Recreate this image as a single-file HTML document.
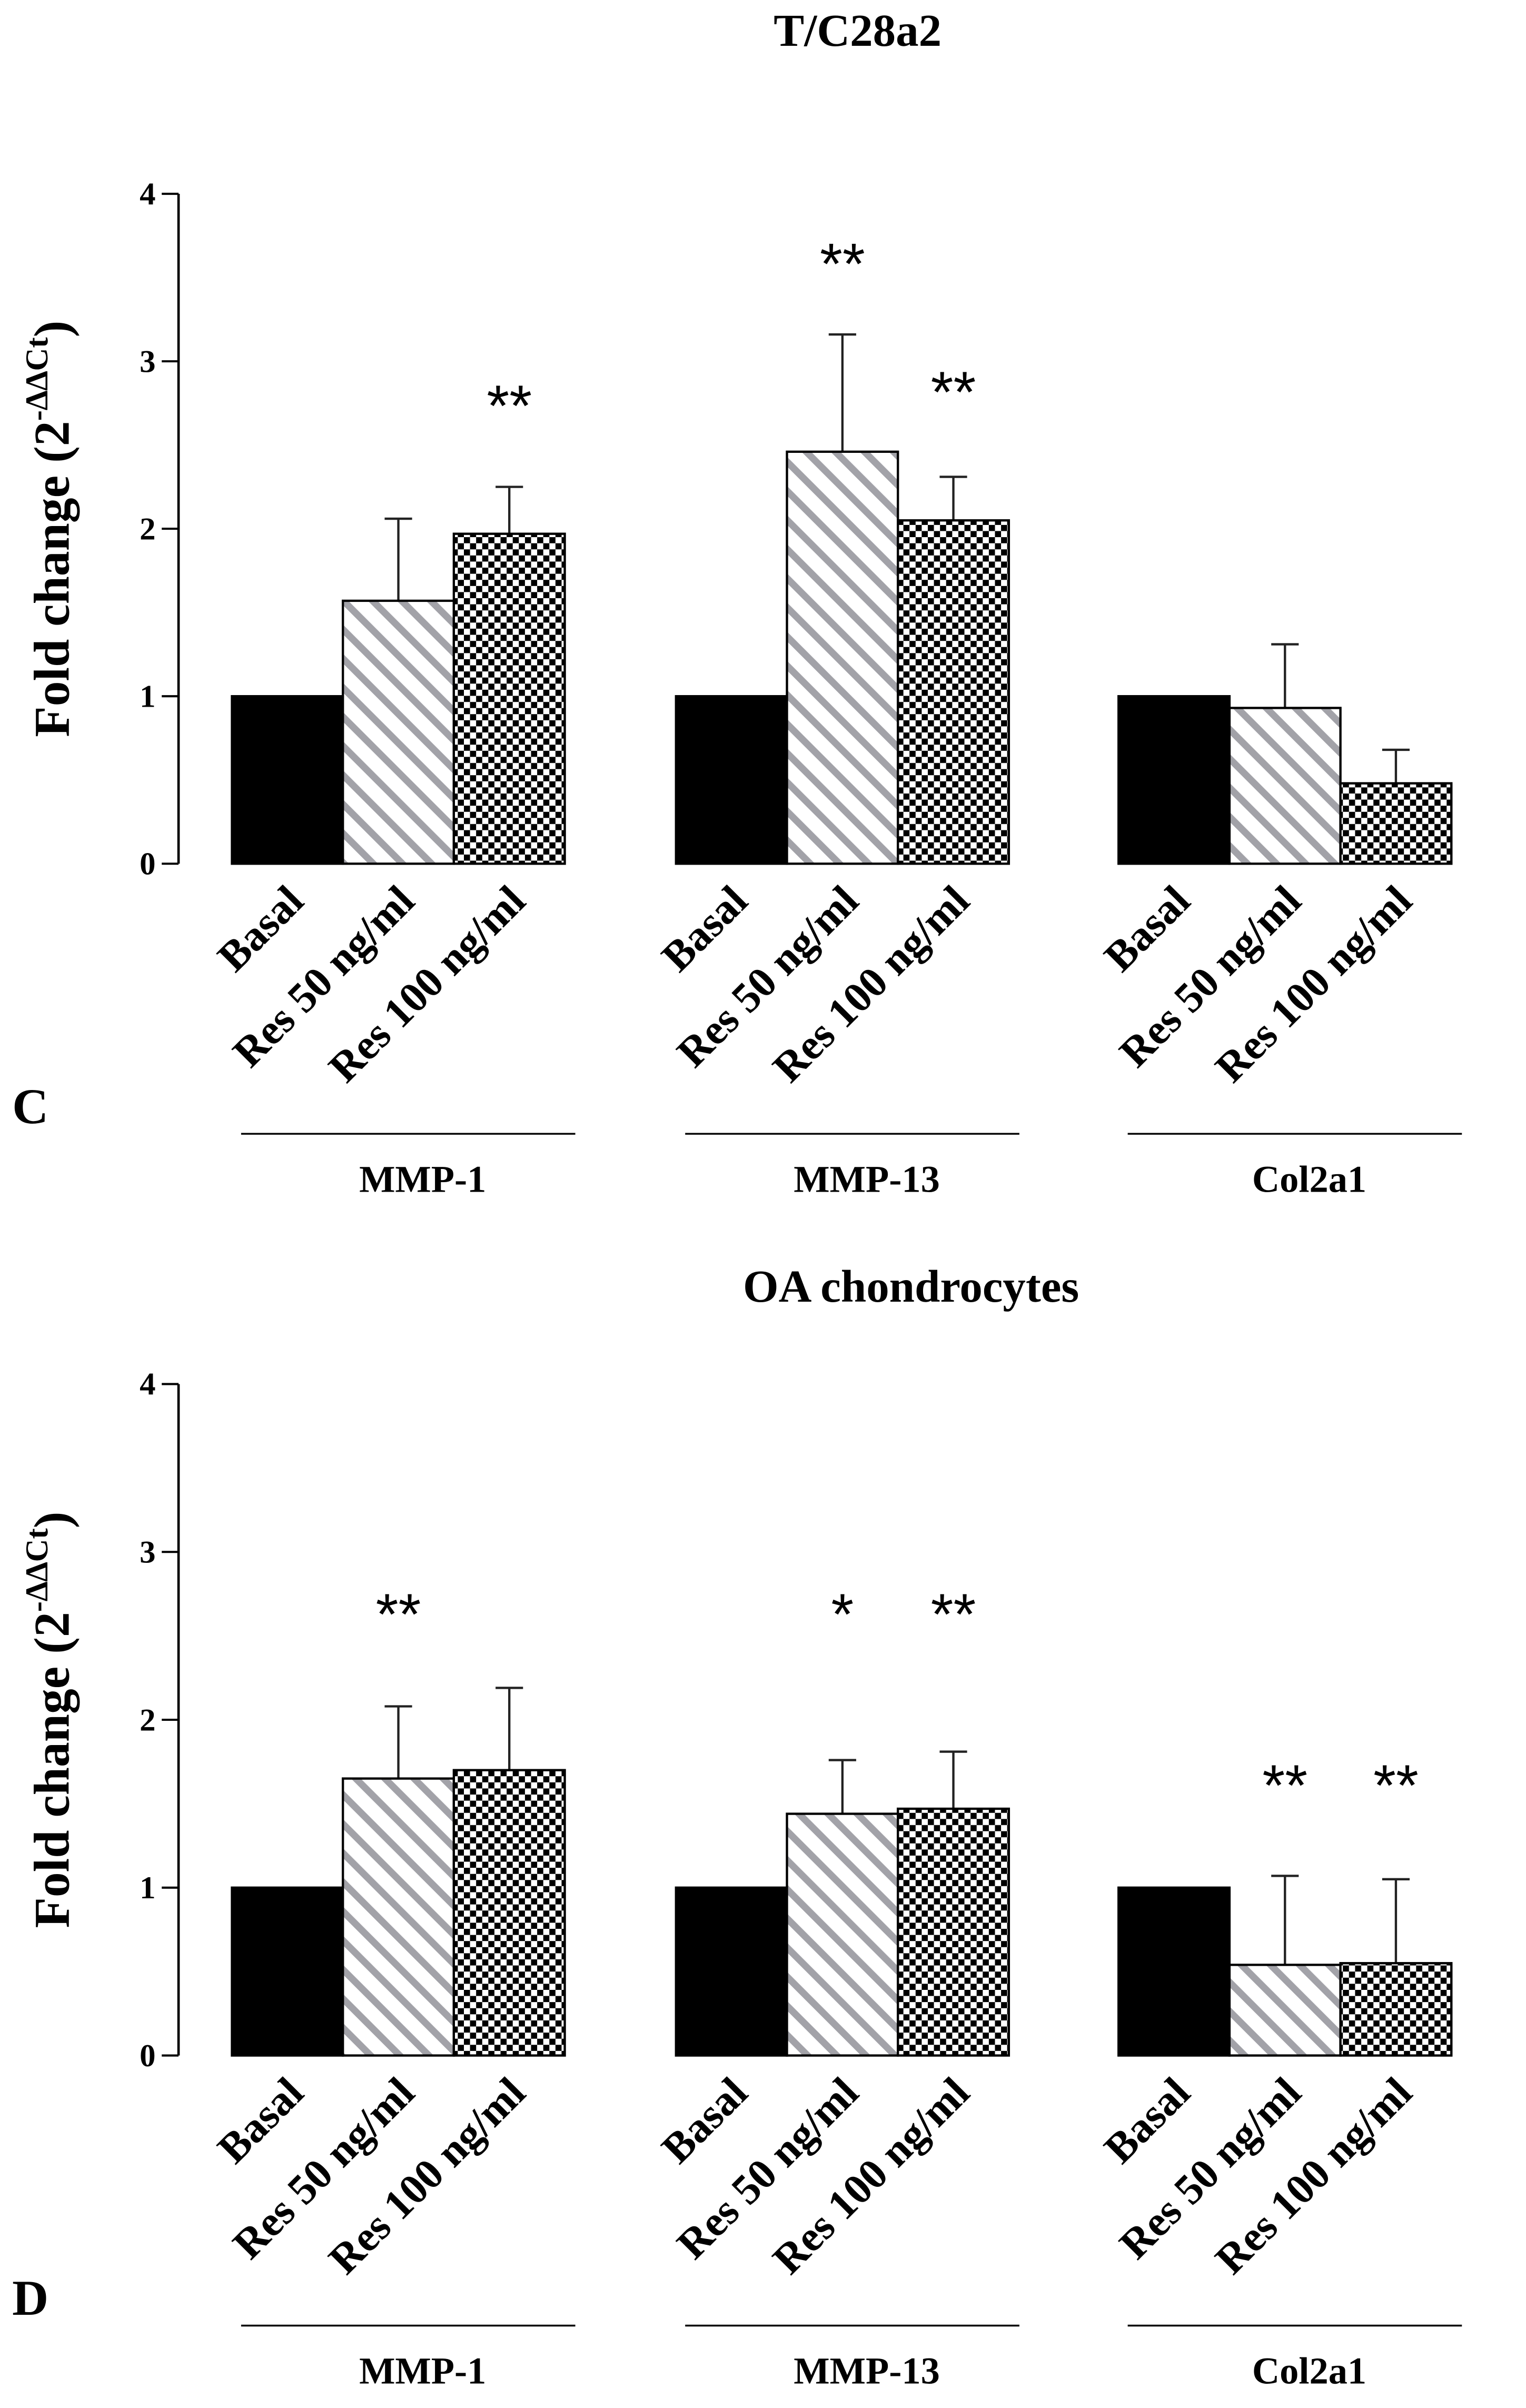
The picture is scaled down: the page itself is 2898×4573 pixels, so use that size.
<!DOCTYPE html>
<html><head><meta charset="utf-8"><style>html,body{margin:0;padding:0;background:#fff}svg{display:block}</style></head>
<body>
<svg id="fig" width="2898" height="4573" viewBox="0 0 1000 1578" preserveAspectRatio="none" xmlns="http://www.w3.org/2000/svg" font-family="Liberation Serif, serif">
<defs>
<pattern id="stripe" patternUnits="userSpaceOnUse" width="13.5" height="13.5" patternTransform="rotate(-45)">
<rect width="13.5" height="13.5" fill="#fff"/><rect x="0" y="0" width="4.5" height="13.5" fill="#a2a2a8"/>
</pattern>
<pattern id="check" patternUnits="userSpaceOnUse" width="8" height="8">
<rect width="8" height="8" fill="#fff"/><rect x="0" y="0" width="4" height="4" fill="#000"/><rect x="4" y="4" width="4" height="4" fill="#000"/>
</pattern>
</defs>
</svg>
<script>
const groups = ["MMP-1","MMP-13","Col2a1"];
const treatments = ["Basal","Res 50 ng/ml","Res 100 ng/ml"];
const yTicks = [0,1,2,3,4];
const meanC = [[1,1.57,1.97],[1,2.46,2.05],[1,0.93,0.48]];
const errC  = [[0,0.49,0.28],[0,0.70,0.26],[0,0.38,0.20]];
const starsC = [["","","**"],["","**","**"],["","",""]];
const starYC = [[0,0,263],[0,170,254],[0,0,0]];
const meanD = [[1,1.65,1.70],[1,1.44,1.47],[1,0.54,0.55]];
const errD  = [[0,0.43,0.49],[0,0.32,0.34],[0,0.53,0.50]];
const starsD = [["","**",""],["","*","**"],["","**","**"]];
const starYD = [[0,1055,0],[0,1055,1055],[0,1167,1167]];

const NS="http://www.w3.org/2000/svg";
const svg=document.getElementById('fig');
function mk(tag,attrs,parent){const e=document.createElementNS(NS,tag);for(const k in attrs)e.setAttribute(k,attrs[k]);(parent||svg).appendChild(e);return e;}
const fills=["#000","url(#stripe)","url(#check)"];
const groupX=[152,443,733];
const barW=72.7;

function panel(top0, yTop4, title, titleX, titleY, letter, means, errs, stars, starYs){
  const g=mk('g',{});
  
  
  const unit=(top0-yTop4)/4;
  const y=v=>top0-v*unit;
  const t=mk('text',{x:titleX,y:titleY,'text-anchor':'middle','font-size':30,'font-weight':'bold'},g);
  t.textContent=title;
  
  
  const ax=mk('line',{x1:117,y1:y(4),x2:117,y2:y(0),stroke:'#000','stroke-width':1.6},g);
  
  
  yTicks.forEach(v=>{
    mk('line',{x1:106,y1:y(v),x2:117,y2:y(v),stroke:'#000','stroke-width':1.4},g);
    const tl=mk('text',{x:102,y:y(v)+7,'text-anchor':'end','font-size':21,'font-weight':'bold'},g);
    tl.textContent=v;
    
    
  });
  const yt=mk('text',{transform:`translate(45,${(y(0)+y(4))/2}) rotate(-90)`,'text-anchor':'middle','font-size':33,'font-weight':'bold'},g);
  yt.innerHTML='Fold change (2<tspan font-size="21" dy="-14">-∆∆Ct</tspan><tspan dy="14">)</tspan>';
  
  
  groups.forEach((gn,gi)=>{
    treatments.forEach((tn,ti)=>{
      const x=groupX[gi]+ti*barW;
      const m=means[gi][ti], e=errs[gi][ti];
      const cx=x+barW/2;
      if(e>0){
        mk('line',{x1:cx,y1:y(m),x2:cx,y2:y(m+e),stroke:'#222','stroke-width':1.5},g);
        mk('line',{x1:cx-9,y1:y(m+e),x2:cx+9,y2:y(m+e),stroke:'#222','stroke-width':1.5},g);
      }
      const b=mk('rect',{x:x,y:y(m),width:barW,height:y(0)-y(m),fill:fills[ti],stroke:'#000','stroke-width':1.5},g);
      
      
      if(stars[gi][ti]){
        const s=mk('text',{x:cx,y:starYs[gi][ti]+16,'text-anchor':'middle','font-size':38,'font-family':'Liberation Sans, sans-serif'},g);
        s.textContent=stars[gi][ti];
        
        
      }
      const xl=mk('text',{transform:`translate(${cx+12},${y(0)+26}) rotate(-45)`,'text-anchor':'end','font-size':28,'font-weight':'bold'},g);
      xl.textContent=tn;
      
      
    });
    const gx=groupX[gi];
    mk('line',{x1:gx+6,y1:y(0)+177,x2:gx+225,y2:y(0)+177,stroke:'#000','stroke-width':1.2},g);
    const gl=mk('text',{x:gx+125,y:y(0)+215,'text-anchor':'middle','font-size':25,'font-weight':'bold'},g);
    gl.textContent=gn;
    
    
  });
  const L=mk('text',{x:8,y:y(0)+170,'font-size':33,'font-weight':'bold'},g);
  L.textContent=letter;
  
  
}
panel(566,127,'T/C28a2',562,30,'C',meanC,errC,starsC,starYC);
panel(1347,907,'OA chondrocytes',597,853,'D',meanD,errD,starsD,starYD);
</script>
</body></html>
